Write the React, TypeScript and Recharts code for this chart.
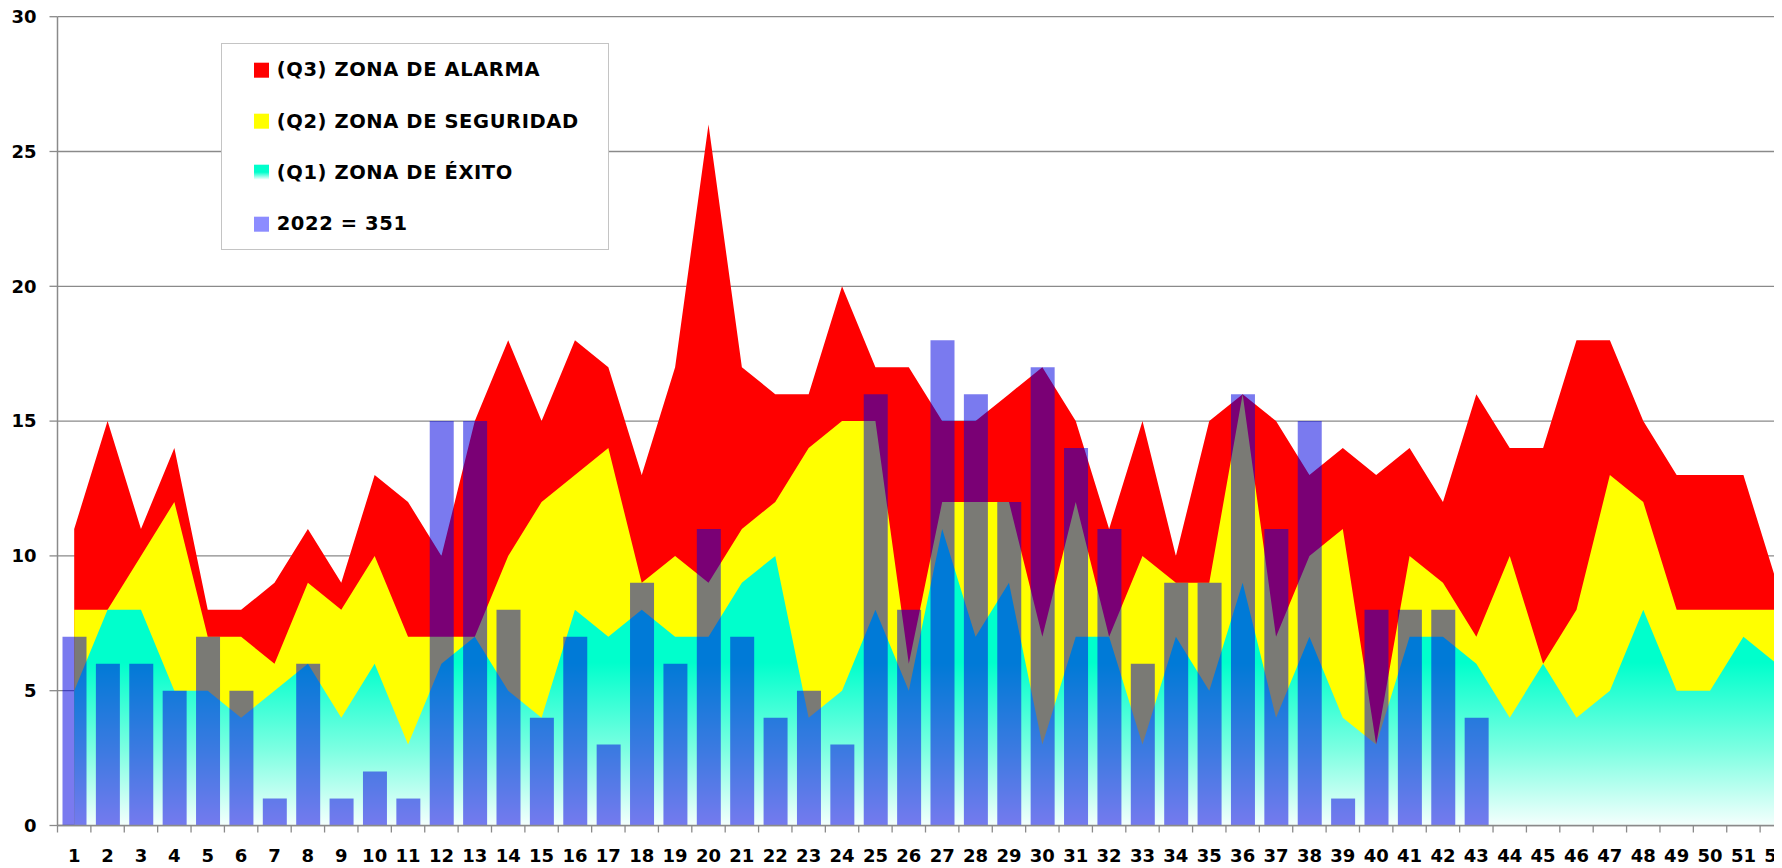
import React from 'react';
import { ComposedChart, Area, Bar, XAxis, YAxis, CartesianGrid, Legend } from 'recharts';

const weeks = ['1','2','3','4','5','6','7','8','9','10','11','12','13','14','15','16','17','18','19','20','21','22','23','24','25','26','27','28','29','30','31','32','33','34','35','36','37','38','39','40','41','42','43','44','45','46','47','48','49','50','51','52'];

const q3Alarma = [11,15,11,14,8,8,9,11,9,13, 12,10,15,18,15,18,17,13,17,26, 17,16,16,20,17,17,15,15,16,17, 15,11,15,10,15,16,15,13,14,13, 14,12,16,14,14,18,18,15,13,13, 13,9];
const q2Seguridad = [8,8,10,12,7,7,6,9,8,10, 7,7,7,10,12,13,14,9,10,9, 11,12,14,15,15,6,12,12,12,7, 12,7,10,9,9,16,7,10,11,3, 10,9,7,10,6,8,13,12,8,8, 8,8];
const q1Exito = [5,8,8,5,5,4,5,6,4,6, 3,6,7,5,4,8,7,8,7,7, 9,10,4,5,8,5,11,7,9,3, 7,7,3,7,5,9,4,7,4,3, 7,7,6,4,6,4,5,8,5,5, 7,6];
const casos2022 = [7,6,6,5,7,5,1,6,1,2, 1,15,15,8,4,7,3,9,6,11, 7,4,5,3,16,8,18,16,12,17, 14,11,6,9,9,16,11,15,1,8, 8,8,4,null,null,null,null,null,null,null, null,null];

const yTicks = [0, 5, 10, 15, 20, 25, 30];

const seriesNames = {
  q3: '(Q3) ZONA DE ALARMA',
  q2: '(Q2) ZONA DE SEGURIDAD',
  q1: '(Q1) ZONA DE ÉXITO',
  bars: '2022 = 351',
};

const data = weeks.map((w, i) => ({
  week: w,
  q3: q3Alarma[i],
  q2: q2Seguridad[i],
  q1: q1Exito[i],
  bars: casos2022[i],
}));

const FONT = '"DejaVu Sans", Verdana, sans-serif';
const CHART_W = 1800;
const CHART_H = 860;
const MARGIN = { top: 8.7, right: 14.5, bottom: 2.5, left: 0 };
const Y_W = 49.5;
const X_H = 40;
const PLOT_W = CHART_W - MARGIN.left - MARGIN.right - Y_W;
const BAND = PLOT_W / weeks.length;
const AXIS_COLOR = '#8a8a8a';

const XTick = (props: any) => {
  const { x, y, payload } = props;
  return (
    <g>
      <line x1={x - BAND / 2} x2={x - BAND / 2} y1={y} y2={y + 7} stroke={AXIS_COLOR} strokeWidth={1.3} />
      <text x={x} y={y + 36.5} textAnchor="middle" fontFamily={FONT} fontWeight="bold" fontSize={18} fill="#000">
        {payload.value}
      </text>
    </g>
  );
};

const legendRows = [
  { label: seriesNames.q3, swatch: '#FF0000' },
  { label: seriesNames.q2, swatch: '#FFFF00' },
  { label: seriesNames.q1, swatch: 'linear-gradient(to bottom, #00FFCC 0%, #00FFCC 50%, #FFFFFF 100%)' },
  { label: seriesNames.bars, swatch: '#8C8CFF' },
];
const rowCenters = [26, 77.4, 128.4, 180];

const LegendBox = () => (
  <div
    style={{
      position: 'relative',
      width: 388,
      height: 207,
      boxSizing: 'border-box',
      border: '1.5px solid #c4c4c4',
      background: '#ffffff',
      fontFamily: FONT,
    }}
  >
    {legendRows.map((r, i) => (
      <div
        key={r.label}
        style={{
          position: 'absolute',
          left: 32,
          top: rowCenters[i],
          transform: 'translateY(-50%)',
          display: 'flex',
          alignItems: 'center',
          whiteSpace: 'nowrap',
        }}
      >
        <div style={{ width: 15, height: 15, background: r.swatch, marginRight: 8 }} />
        <span style={{ fontSize: 19.5, fontWeight: 'bold', letterSpacing: 0.6, color: '#000', lineHeight: 1.16 }}>
          {r.label}
        </span>
      </div>
    ))}
  </div>
);

export default function App() {
  return (
    <div style={{ width: 1774, height: 860, overflow: 'hidden', position: 'relative', background: '#fff' }}>
      <ComposedChart width={CHART_W} height={CHART_H} data={data} margin={MARGIN}>
        <defs>
          <linearGradient id="q1grad" x1="0" y1="0" x2="0" y2="1">
            <stop offset="0" stopColor="#00FFCC" />
            <stop offset="0.45" stopColor="#00FFCC" />
            <stop offset="0.75" stopColor="#7FFFE2" />
            <stop offset="1" stopColor="#F4FFFD" />
          </linearGradient>
        </defs>
        <CartesianGrid vertical={false} stroke={AXIS_COLOR} strokeWidth={1.3} />
        <XAxis
          dataKey="week"
          height={X_H}
          interval={0}
          tickLine={false}
          tickSize={0}
          tickMargin={0}
          axisLine={{ stroke: AXIS_COLOR, strokeWidth: 1.5 }}
          tick={<XTick />}
        />
        <YAxis
          width={Y_W}
          domain={[0, 30]}
          ticks={yTicks}
          interval={0}
          tickSize={8}
          tickMargin={13}
          axisLine={{ stroke: AXIS_COLOR, strokeWidth: 1.5 }}
          tickLine={{ stroke: AXIS_COLOR, strokeWidth: 1.3 }}
          tick={{ fontFamily: FONT, fontWeight: 'bold', fontSize: 18, fill: '#000' }}
        />
        <Area
          type="linear"
          dataKey="q3"
          name={seriesNames.q3}
          stroke="none"
          fill="#FF0000"
          fillOpacity={1}
          dot={false}
          activeDot={false}
          isAnimationActive={false}
        />
        <Area
          type="linear"
          dataKey="q2"
          name={seriesNames.q2}
          stroke="none"
          fill="#FFFF00"
          fillOpacity={1}
          dot={false}
          activeDot={false}
          isAnimationActive={false}
        />
        <Area
          type="linear"
          dataKey="q1"
          name={seriesNames.q1}
          stroke="none"
          fill="url(#q1grad)"
          fillOpacity={1}
          dot={false}
          activeDot={false}
          isAnimationActive={false}
        />
        <Bar
          dataKey="bars"
          name={seriesNames.bars}
          fill="#0000E0"
          fillOpacity={0.52}
          barSize={24}
          isAnimationActive={false}
        />
        <Legend
          layout="vertical"
          align="center"
          verticalAlign="middle"
          wrapperStyle={{ position: 'absolute', left: 212.7, top: 35.3, width: 388, height: 207, margin: 0, padding: 0 }}
          content={() => <LegendBox />}
        />
      </ComposedChart>
    </div>
  );
}
